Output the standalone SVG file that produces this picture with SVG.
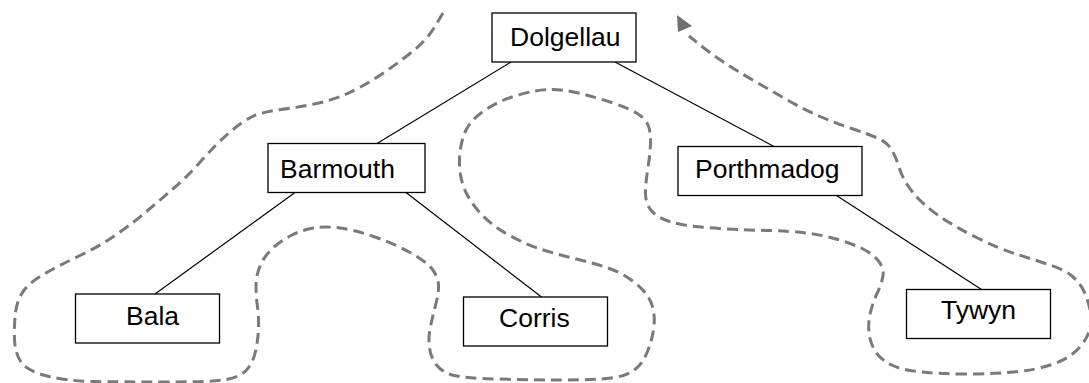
<svg xmlns="http://www.w3.org/2000/svg" width="1089" height="383" viewBox="0 0 1089 383">
<style>
.box{fill:#fff;stroke:#000;stroke-width:1.3}
.lbl{font-family:"Liberation Sans",Arial,sans-serif;font-size:26.5px;fill:#000}
.edge{stroke:#000;stroke-width:1.2;fill:none}
.tour{fill:none;stroke:#7a7a7a;stroke-width:3;stroke-dasharray:11 6}
</style>
<rect width="1089" height="383" fill="#fff"/>
<g id="traversal">
<path class="tour" d="M443,13 L435,26.5 Q427,40 410,53.5 Q393,67 376.5,77.5 Q360,88 346.5,94 Q333,100 316.5,103.5 Q300,107 281,109.5 Q262,112 252.5,116.5 Q243,121 230,132 Q217,143 202,160 Q187,177 173.5,188.5 Q160,200 146.5,211.5 Q133,223 116.5,234.5 Q100,246 80,255.5 Q60,265 45,273.5 Q30,282 23.5,291 Q17,300 15.5,312.5 Q14,325 14.5,339 Q15,353 21,362 Q27,371 47,376 Q67,381 93.5,381.5 Q120,382 166.5,382 Q213,382 226.5,379.5 Q240,377 246.5,370 Q253,363 255.5,351.5 Q258,340 258.5,329 Q259,318 257.5,307 Q256,296 256,285.5 Q256,275 260.5,265 Q265,255 273.5,247.5 Q282,240 292,235 Q302,230 313.5,228 Q325,226 340,228 Q355,230 375,237 Q395,244 411,253 Q427,262 432.5,269.5 Q438,277 438.5,284.5 Q439,292 436,303.5 Q433,315 430.5,326.5 Q428,338 429.5,348 Q431,358 436.5,365 Q442,372 452,375 Q462,378 496,379 Q530,380 562.5,380 Q595,380 611,378 Q627,376 635,369.5 Q643,363 647.5,351.5 Q652,340 653.5,330 Q655,320 653.5,311 Q652,302 646.5,294.5 Q641,287 630.5,279.5 Q620,272 606.5,267.5 Q593,263 576.5,259 Q560,255 543.5,250 Q527,245 510.5,236 Q494,227 483,216 Q472,205 466,192.5 Q460,180 459.5,165 Q459,150 463.5,136 Q468,122 483,111.5 Q498,101 516.5,95.5 Q535,90 548.5,89.5 Q562,89 578.5,93 Q595,97 611.5,102.5 Q628,108 636.5,113 Q645,118 648,125 Q651,132 650.5,143.5 Q650,155 648,167.5 Q646,180 645.5,190 Q645,200 648.5,206.5 Q652,213 660,217.5 Q668,222 681.5,224.5 Q695,227 720,228.5 Q745,230 767.5,230.5 Q790,231 806.5,233 Q823,235 838,239.5 Q853,244 863,249 Q873,254 878.5,261 Q884,268 883,275.5 Q882,283 877.5,292.5 Q873,302 870.5,312 Q868,322 869,332.5 Q870,343 875.5,351.5 Q881,360 891.5,365 Q902,370 921,372 Q940,374 965,374 Q990,374 1013.5,372 Q1037,370 1053.5,364 Q1070,358 1079,348 Q1088,338 1090,328 Q1092,318 1089.5,307.5 Q1087,297 1083,289.5 Q1079,282 1072,276 Q1065,270 1050,265 Q1035,260 1017.5,254.5 Q1000,249 977.5,238 Q955,227 938.5,215.5 Q922,204 912.5,192 Q903,180 899.5,168.5 Q896,157 891.5,149.5 Q887,142 877.5,138 Q868,134 851.5,128.5 Q835,123 819,116 Q803,109 786.5,99.5 Q770,90 753.5,80.5 Q737,71 723.5,62 Q710,53 699.5,44.5 L689,36"/>
<polygon points="677,15 692,26 678,32" fill="#6f6f6f"/>
</g>
<g id="connectors">
<line class="edge" x1="511" y1="62" x2="377" y2="143.5"/>
<line class="edge" x1="615" y1="62" x2="774" y2="146.5"/>
<line class="edge" x1="295" y1="192.5" x2="155" y2="294"/>
<line class="edge" x1="406" y1="192.5" x2="541.5" y2="297"/>
<line class="edge" x1="836.5" y1="195.5" x2="981.5" y2="289.5"/>
</g>
<g id="node-dolgellau"><rect class="box" x="492" y="13" width="144" height="49"/><text class="lbl" x="510" y="46">Dolgellau</text></g>
<g id="node-barmouth"><rect class="box" x="268" y="143.5" width="157" height="49"/><text class="lbl" x="280" y="178">Barmouth</text></g>
<g id="node-porthmadog"><rect class="box" x="678" y="146.5" width="184" height="49"/><text class="lbl" x="695" y="178">Porthmadog</text></g>
<g id="node-bala"><rect class="box" x="75.5" y="294" width="144" height="49"/><text class="lbl" x="126" y="325">Bala</text></g>
<g id="node-corris"><rect class="box" x="463.5" y="297" width="144" height="49"/><text class="lbl" x="499" y="327">Corris</text></g>
<g id="node-tywyn"><rect class="box" x="906.5" y="289.5" width="144" height="49"/><text class="lbl" x="941" y="319">Tywyn</text></g>
</svg>
